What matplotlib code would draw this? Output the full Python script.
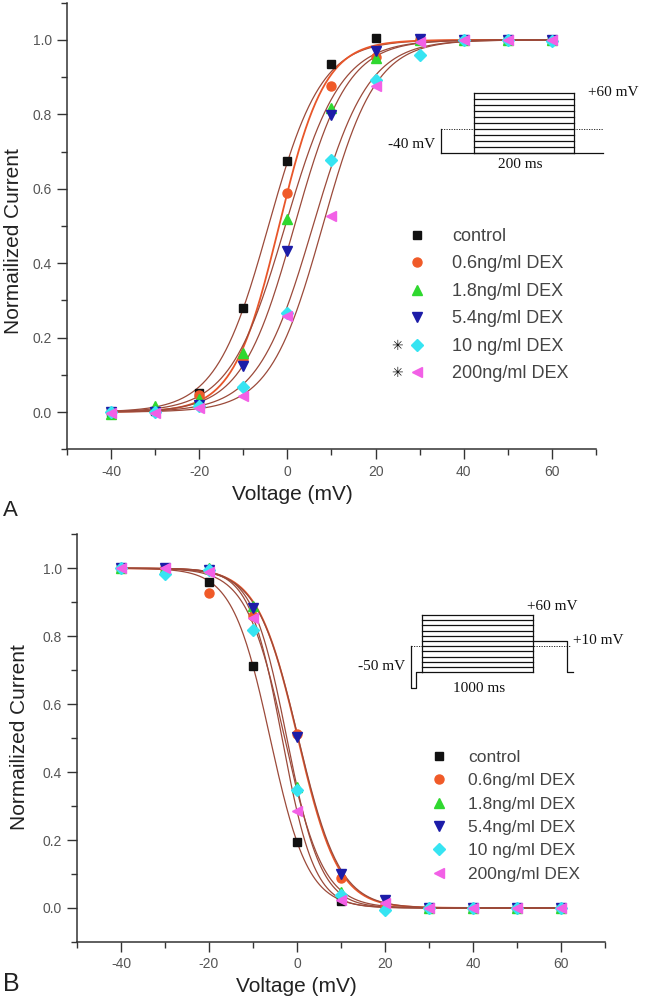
import numpy as np
import matplotlib.pyplot as plt
from matplotlib.ticker import MultipleLocator

plt.rcParams['font.family'] = ['Liberation Sans', 'DejaVu Sans']
plt.rcParams['axes.unicode_minus'] = False

# test potentials (mV)
volt = [-40, -30, -20, -10, 0, 10, 20, 30, 40, 50, 60]

labels = ['control', '0.6ng/ml DEX', '1.8ng/ml DEX', '5.4ng/ml DEX',
          '10 ng/ml DEX', '200ng/ml DEX']
colors = ['#111111', '#f05a28', '#2fd82f', '#1c1ca8', '#36e4f2', '#f260e6']
markers = ['s', 'o', '^', 'v', 'D', '<']
msizes = [5.5, 6.5, 7.5, 7.5, 6.0, 7.5]

# panel A: activation
act_control = [0.0, 0.003, 0.052, 0.279, 0.674, 0.934, 1.004, 1.0, 1.0, 1.0, 1.0]
act_06 = [0.0, 0.005, 0.045, 0.140, 0.588, 0.875, 0.955, 1.0, 1.0, 1.0, 1.0]
act_18 = [-0.005, 0.015, 0.035, 0.158, 0.519, 0.817, 0.952, 1.0, 1.0, 1.0, 1.0]
act_54 = [0.0, 0.0, 0.020, 0.125, 0.434, 0.797, 0.970, 1.003, 1.0, 1.0, 1.0]
act_10 = [0.0, 0.0, 0.015, 0.067, 0.266, 0.678, 0.893, 0.960, 1.0, 1.0, 0.998]
act_200 = [-0.003, -0.003, 0.012, 0.042, 0.257, 0.526, 0.877, 0.994, 1.0, 1.0, 1.0]
act_vhalf = [-4.3, -1.9, -0.5, 1.6, 5.8, 8.0]
act_slope = [6.0, 5.2, 6.3, 6.0, 6.3, 6.0]

# panel B: inactivation
inact_control = [1.0, 1.0, 0.960, 0.712, 0.193, 0.020, 0.003, 0.0, 0.0, 0.0, 0.0]
inact_06 = [1.0, 1.0, 0.926, 0.860, 0.512, 0.087, 0.005, 0.0, 0.0, 0.0, 0.0]
inact_18 = [1.0, 1.0, 1.0, 0.890, 0.357, 0.047, 0.005, 0.0, 0.0, 0.0, 0.0]
inact_54 = [1.0, 1.0, 0.995, 0.882, 0.503, 0.099, 0.023, 0.0, 0.0, 0.0, 0.0]
inact_10 = [1.0, 0.983, 0.995, 0.819, 0.346, 0.038, -0.007, 0.0, 0.0, 0.0, 0.0]
inact_200 = [1.0, 1.0, 0.990, 0.855, 0.284, 0.023, 0.015, 0.0, 0.0, 0.0, 0.0]
inact_vhalf = [-6.1, 0.2, -2.3, 0.3, -2.8, -3.4]
inact_slope = [4.3, 4.6, 3.9, 4.7, 4.4, 3.7]

act = [act_control, act_06, act_18, act_54, act_10, act_200]
inact = [inact_control, inact_06, inact_18, inact_54, inact_10, inact_200]

fig = plt.figure(figsize=(6.46, 9.99), dpi=100)
axA = fig.add_axes([0.1037, 0.5503, 0.8189, 0.4470])
axB = fig.add_axes([0.1192, 0.0571, 0.8173, 0.4081])

vfit = np.linspace(-40, 60, 400)


def style(ax):
    ax.set_xlim(-50, 70)
    ax.set_ylim(-0.1, 1.1)
    for s in ['top', 'right']:
        ax.spines[s].set_visible(False)
    for s in ['left', 'bottom']:
        ax.spines[s].set_color('#333333')
        ax.spines[s].set_linewidth(1.1)
    ax.xaxis.set_major_locator(MultipleLocator(20))
    ax.xaxis.set_minor_locator(MultipleLocator(10))
    ax.yaxis.set_major_locator(MultipleLocator(0.2))
    ax.yaxis.set_minor_locator(MultipleLocator(0.1))
    ax.set_yticks([0.0, 0.2, 0.4, 0.6, 0.8, 1.0])
    ax.set_yticklabels(['0.0', '0.2', '0.4', '0.6', '0.8', '1.0'])
    ax.set_xticks([-40, -20, 0, 20, 40, 60])
    ax.tick_params(which='major', length=7, width=1.0, color='#333333',
                   labelsize=10, labelcolor='#555555', pad=4)
    ax.tick_params(which='minor', length=4, width=1.0, color='#333333')
    ax.patch.set_alpha(0)


def fit_color(i):
    return ('#e8562a', 1.3) if i == 1 else ('#9b4a3a', 0.9)


# panel A
for i in range(6):
    c, lw = fit_color(i)
    y = 1.0 / (1.0 + np.exp((act_vhalf[i] - vfit) / act_slope[i]))
    axA.plot(vfit, y, color=c, lw=lw, zorder=2)
for i in range(6):
    axA.plot(volt, act[i], linestyle='none', marker=markers[i], ms=msizes[i],
             color=colors[i], mec=colors[i], label=labels[i], zorder=3)
style(axA)

# panel B
for i in range(6):
    c, lw = fit_color(i)
    y = 1.0 / (1.0 + np.exp((vfit - inact_vhalf[i]) / inact_slope[i]))
    axB.plot(vfit, y, color=c, lw=lw, zorder=2)
for i in range(6):
    axB.plot(volt, inact[i], linestyle='none', marker=markers[i], ms=msizes[i],
             color=colors[i], mec=colors[i], label=labels[i], zorder=3)
style(axB)

# legends
legA = axA.legend(loc='upper left', bbox_to_anchor=(407.7 / 646, 1 - 228 / 999),
                  bbox_transform=fig.transFigure, frameon=False, fontsize=13,
                  numpoints=1, handlelength=1.0, handletextpad=1.45,
                  labelspacing=0.58, borderpad=0, borderaxespad=0)
for t in legA.get_texts():
    t.set_color('#444444')
legB = axB.legend(loc='upper left', bbox_to_anchor=(430 / 646, 1 - 750 / 999),
                  bbox_transform=fig.transFigure, frameon=False, fontsize=12.5,
                  numpoints=1, handlelength=1.0, handletextpad=1.2,
                  labelspacing=0.47, borderpad=0, borderaxespad=0)
for t in legB.get_texts():
    t.set_color('#444444')

# overlay in pixel coordinates for labels and protocol sketches
ov = fig.add_axes([0, 0, 1, 1], zorder=10)
ov.set_xlim(0, 646)
ov.set_ylim(999, 0)
ov.axis('off')
ov.patch.set_alpha(0)

ov.text(14, 241, 'Normailized Current', rotation=90, ha='center', va='center',
        fontsize=15, color='#222222')
ov.text(292, 495, 'Voltage (mV)', ha='center', va='center', fontsize=15,
        color='#222222')
ov.text(20, 737, 'Normailized Current', rotation=90, ha='center', va='center',
        fontsize=15, color='#222222')
ov.text(296, 987, 'Voltage (mV)', ha='center', va='center', fontsize=15,
        color='#222222')
ov.text(3, 511, 'A', ha='left', va='center', fontsize=16, color='#222222')
ov.text(3, 984, 'B', ha='left', va='center', fontsize=18, color='#222222')

# significance marks
for yy in [346, 373]:
    ov.text(397, yy, '\u2733', ha='center', va='center', fontsize=10,
            color='#111111', family=['DejaVu Sans'])

lk = dict(color='#111111', lw=0.9)
serif = dict(family=['Liberation Serif'], fontsize=11, color='#111111')

# protocol A
bx0, bx1, by0, by1 = 474.3, 574.3, 92.7, 153.3
for yy in np.linspace(by0, by1, 11):
    ov.plot([bx0, bx1], [yy, yy], **lk)
ov.plot([bx0, bx0], [by0, by1], **lk)
ov.plot([bx1, bx1], [by0, by1], **lk)
ov.plot([441, 603], [153.3, 153.3], **lk)
ov.plot([441, 441], [129.3, 153.3], **lk)
ov.plot([441, 603], [129.3, 129.3], color='#111111', lw=0.6, ls=(0, (1.5, 1.5)))
ov.text(588, 92, '+60 mV', ha='left', va='center', **serif)
ov.text(435, 145, '-40 mV', ha='right', va='center', **serif)
ov.text(520, 165, '200 ms', ha='center', va='center', **serif)

# protocol B
bx0, bx1, by0, by1 = 421.7, 533.3, 615.0, 672.3
for yy in np.linspace(by0, by1, 12):
    ov.plot([bx0, bx1], [yy, yy], **lk)
ov.plot([bx0, bx0], [by0, by1], **lk)
ov.plot([bx1, bx1], [by0, by1], **lk)
ov.plot([411, 411, 416, 416, bx0], [646, 687.7, 687.7, 672.3, 672.3], **lk)
ov.plot([bx1, 567.3, 567.3, 572.7], [641, 641, 672.3, 672.3], **lk)
ov.plot([411, 571], [646, 646], color='#111111', lw=0.6, ls=(0, (1.5, 1.5)))
ov.text(526.7, 607, '+60 mV', ha='left', va='center', **serif)
ov.text(572.7, 641, '+10 mV', ha='left', va='center', **serif)
ov.text(405, 667, '-50 mV', ha='right', va='center', **serif)
ov.text(479.3, 688, '1000 ms', ha='center', va='center', **serif)

fig.savefig('out.png', dpi=100)
